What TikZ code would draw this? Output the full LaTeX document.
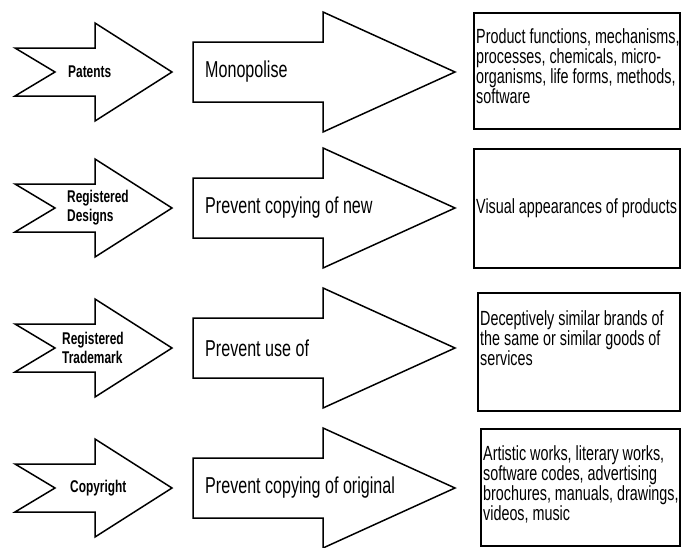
\documentclass[tikz,border=0pt]{standalone}
\usepackage{fontspec}
\setmainfont{Liberation Sans}[FakeStretch=0.7]
\usetikzlibrary{positioning}
\tikzset{
  outline/.style={draw=black,line width=1.5pt,line join=miter,fill=white},
  rightlabel/.style={font=\fontsize{17}{19}\selectfont\bfseries,align=left,
                     anchor=west,inner sep=0pt},
  actlabel/.style={font=\fontsize{23}{26}\selectfont,anchor=west,inner sep=0pt},
  infobox/.style={draw=black,line width=1.6pt,inner sep=0pt,anchor=north west},
  infotext/.style={font=\fontsize{20.5}{20}\selectfont,align=left,inner sep=0pt}
}

\begin{document}
\begin{tikzpicture}[x=1pt,y=-1pt]
  \useasboundingbox (0,0) rectangle (681,547);
  % left and middle arrows
  \foreach \y/\rname/\rtext/\lx/\act in {
      72/patents/Patents/68/Monopolise,
      208/designs/{Registered\\Designs}/67/{Prevent copying of new},
      348/marks/{Registered\\Trademark}/62/{Prevent use of},
      488/copyright/Copyright/70/{Prevent copying of original}}{
    \draw[outline] (15,\y-24) -- (95,\y-24) -- (95,\y-49) -- (172,\y)
      -- (95,\y+49) -- (95,\y+24) -- (15,\y+24) -- (55,\y) -- cycle;
    \draw[outline] (193,\y-30) -- (323,\y-30) -- (323,\y-60) -- (455,\y)
      -- (323,\y+60) -- (323,\y+30) -- (193,\y+30) -- cycle;
    \node[rightlabel] (right-\rname) at (\lx,\y) {\rtext};
    \node[actlabel] (act-\rname) at (205,\y) {\act};
  }
  % subject matter boxes
  \node[infobox,minimum width=206pt,minimum height=116pt] (box-patents) at (473,12) {};
  \node[infotext,below right=16pt and 3pt of box-patents.north west] (txt-patents)
    {Product functions, mechanisms,\\processes, chemicals, micro-\\organisms, life forms, methods,\\software};
  \node[infobox,minimum width=206pt,minimum height=119pt] (box-designs) at (473,148) {};
  \node[infotext,right=3pt of box-designs.west] (txt-designs)
    {Visual appearances of products};
  \node[infobox,minimum width=202pt,minimum height=118pt] (box-marks) at (477,292) {};
  \node[infotext,below right=18pt and 3pt of box-marks.north west] (txt-marks)
    {Deceptively similar brands of\\the same or similar goods of\\services};
  \node[infobox,minimum width=199pt,minimum height=117pt] (box-copyright) at (480,428) {};
  \node[infotext,below right=17pt and 3pt of box-copyright.north west] (txt-copyright)
    {Artistic works, literary works,\\software codes, advertising\\brochures, manuals, drawings,\\videos, music};
\end{tikzpicture}
\end{document}
